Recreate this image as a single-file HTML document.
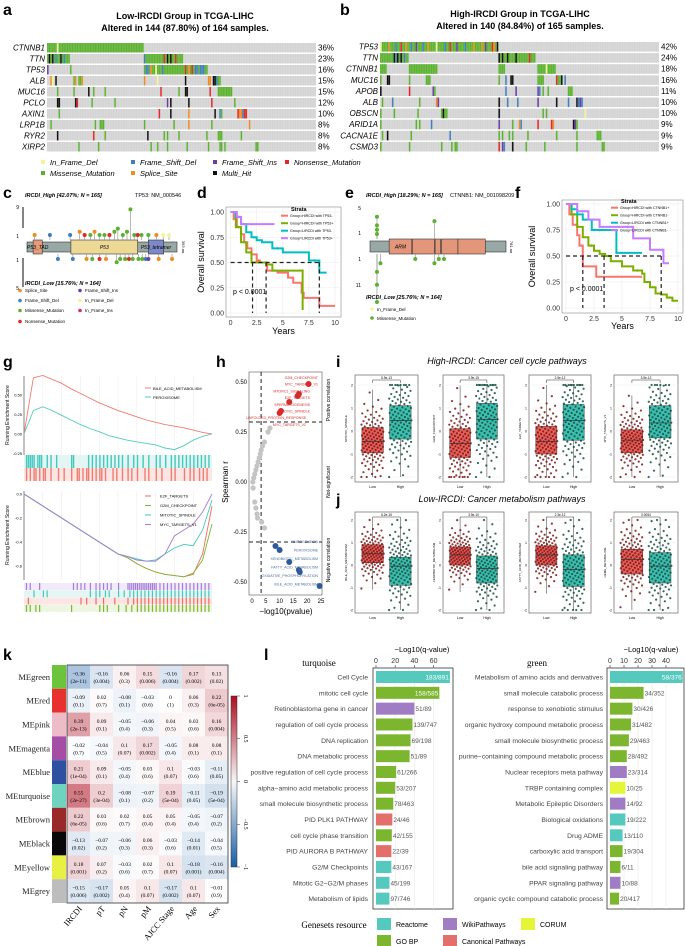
<!DOCTYPE html>
<html><head><meta charset="utf-8">
<style>
html,body{margin:0;padding:0;background:#fff;}
svg{display:block;font-family:"Liberation Sans",sans-serif;}
.pl{font-weight:bold;font-size:16px;}
</style></head>
<body>
<svg id="fig" width="685" height="946" viewBox="0 0 685 946" xmlns="http://www.w3.org/2000/svg">
<rect x="0" y="0" width="685" height="946" fill="#fff"/>
<text class="pl" x="3" y="15">a</text>
<text class="pl" x="340" y="15">b</text>
<text class="pl" x="3" y="198">c</text>
<text class="pl" x="197" y="198">d</text>
<text class="pl" x="345" y="198">e</text>
<text class="pl" x="515" y="198">f</text>
<text class="pl" x="3" y="367">g</text>
<text class="pl" x="216" y="367">h</text>
<text class="pl" x="336" y="367">i</text>
<text class="pl" x="336" y="505">j</text>
<text class="pl" x="3" y="660">k</text>
<text class="pl" x="264" y="660">l</text>
<g font-weight="bold" font-size="9" text-anchor="middle">
<text x="185" y="19">Low-IRCDI Group in TCGA-LIHC</text>
<text x="185" y="31">Altered in 144 (87.80%) of 164 samples.</text>
<text x="520" y="17">High-IRCDI Group in TCGA-LIHC</text>
<text x="520" y="29">Altered in 140 (84.84%) of 165 samples.</text>
</g>
<g id="g-all"></g>
</svg>
<script>
const NS='http://www.w3.org/2000/svg';
const root=document.getElementById('g-all');
function mk(parent,tag,attrs,name){
  const el=document.createElementNS(NS,tag);
  for(const k in attrs) el.setAttribute(k,attrs[k]);
  
  
  parent.appendChild(el);
  return el;
}
function txt(parent,x,y,s,opts,name){const t=mk(parent,'text',Object.assign({x:x,y:y},opts||{}),name);t.textContent=s;return t;}

/* ================= Oncoprints (a, b) ================= */
const mutColors={M:'#5cb130',B:'#3f7fc0',P:'#6b3fa0',R:'#e3262a',O:'#f28a1e',K:'#111',Y:'#f4f49a'};
const genesA=['CTNNB1','TTN','TP53','ALB','MUC16','PCLO','AXIN1','LRP1B','RYR2','XIRP2'];
const pctA=['36%','23%','16%','15%','15%','12%','10%','8%','8%','8%'];
const mutsA=[
 [[0,59,'M'],[6,1,'Y']],
 [[0,14,'M'],[1,1,'K'],[3,1,'K'],[5,1,'B'],[8,1,'K'],[10,1,'B'],[59,24,'M'],[59,1,'B'],[71,1,'R'],[73,1,'K'],[75,1,'K'],[78,1,'R']],
 [[0,1,'P'],[14,1,'M'],[59,39,'M'],[60,2,'B'],[63,1,'O'],[66,1,'Y'],[70,1,'B'],[84,1,'R'],[86,1,'O'],[88,1,'R'],[90,6,'B'],[92,1,'M']],
 [[2,1,'O'],[3,1,'Y'],[5,1,'K'],[16,1,'M'],[17,1,'O'],[19,2,'M'],[21,1,'O'],[59,1,'O'],[67,1,'Y'],[84,1,'K'],[98,2,'O'],[101,4,'K'],[103,1,'B'],[104,2,'M']],
 [[6,1,'M'],[16,1,'M'],[25,1,'K'],[28,1,'M'],[35,1,'M'],[69,1,'R'],[80,1,'M'],[84,2,'K'],[99,1,'R'],[104,9,'M']],
 [[6,2,'K'],[17,1,'K'],[18,1,'R'],[27,1,'M'],[41,1,'M'],[73,1,'P'],[75,1,'K'],[86,1,'K'],[100,1,'R'],[114,1,'M']],
 [[7,1,'M'],[68,1,'R'],[75,1,'K'],[86,1,'O'],[102,1,'K'],[105,1,'B'],[106,1,'M'],[116,6,'R'],[117,2,'O'],[119,1,'B']],
 [[2,1,'M'],[29,1,'M'],[32,3,'M'],[59,1,'M'],[77,1,'M'],[86,1,'O'],[100,1,'M'],[123,1,'O']],
 [[6,1,'K'],[28,1,'R'],[35,1,'M'],[61,1,'K'],[71,1,'M'],[73,1,'M'],[80,1,'M'],[97,1,'M'],[104,3,'M'],[118,1,'M']],
 [[19,1,'M'],[31,1,'M'],[63,1,'M'],[67,1,'M'],[73,1,'M'],[85,1,'M'],[98,1,'M'],[105,2,'M'],[108,1,'M'],[127,2,'M']]
];
const genesB=['TP53','TTN','CTNNB1','MUC16','APOB','ALB','OBSCN','ARID1A','CACNA1E','CSMD3'];
const pctB=['42%','24%','18%','16%','11%','10%','10%','9%','9%','9%'];
const mutsB=[
 [[0,69,'M'],[0,1,'Y'],[5,1,'O'],[9,1,'B'],[12,1,'R'],[15,1,'O'],[18,1,'B'],[21,1,'P'],[25,1,'B'],[28,1,'O'],[33,1,'Y'],[38,1,'B'],[41,1,'R'],[45,1,'P'],[50,1,'B'],[55,1,'O'],[60,1,'O'],[62,1,'P'],[66,1,'R'],[67,1,'O'],[69,1,'K']],
 [[0,17,'M'],[8,1,'K'],[9,1,'B'],[10,1,'K'],[12,1,'K'],[14,1,'B'],[70,22,'M'],[70,1,'K'],[72,1,'K'],[75,1,'K'],[80,1,'K'],[88,1,'R']],
 [[0,4,'M'],[17,17,'M'],[70,4,'M'],[93,11,'M'],[98,1,'Y']],
 [[0,1,'M'],[4,1,'K'],[5,1,'K'],[17,1,'M'],[27,3,'M'],[70,1,'M'],[74,1,'B'],[77,2,'K'],[93,4,'M'],[104,1,'R'],[105,2,'M'],[107,1,'K'],[109,1,'B']],
 [[0,1,'K'],[17,1,'R'],[31,1,'P'],[32,1,'M'],[74,1,'B'],[80,1,'P'],[93,1,'P'],[94,1,'B'],[96,1,'M'],[99,1,'M'],[111,3,'M']],
 [[1,1,'M'],[7,1,'B'],[23,1,'M'],[33,1,'O'],[34,1,'P'],[70,1,'K'],[75,1,'B'],[81,1,'B'],[93,1,'P'],[104,1,'K'],[111,1,'B'],[116,1,'K'],[117,3,'B'],[118,1,'P']],
 [[0,1,'M'],[8,1,'M'],[22,1,'M'],[36,4,'M'],[37,1,'K'],[70,1,'K'],[96,1,'M'],[98,1,'M'],[121,1,'Y']],
 [[0,1,'M'],[21,1,'M'],[23,1,'M'],[30,1,'B'],[70,1,'P'],[78,1,'M'],[82,1,'O'],[83,1,'B'],[93,1,'R'],[101,1,'R'],[102,1,'O'],[114,2,'K'],[115,1,'P'],[116,1,'M']],
 [[1,1,'M'],[4,1,'K'],[18,1,'M'],[41,1,'B'],[70,1,'M'],[72,1,'M'],[76,1,'M'],[78,1,'M'],[87,1,'M'],[104,1,'M'],[116,1,'M'],[128,3,'M']],
 [[0,1,'M'],[17,1,'M'],[36,1,'M'],[42,1,'M'],[44,2,'M'],[70,1,'R'],[72,1,'P'],[73,1,'B'],[78,1,'K'],[86,1,'M'],[97,1,'M'],[116,1,'M'],[131,2,'M']]
];
function onco(genes,pcts,muts,x0,x1,n,top,rowH,tag){
  const g=mk(root,'g',{},'oncoprint-'+tag);
  const cw=(x1-x0)/n;
  genes.forEach((gene,i)=>{
    const y=top+i*rowH;
    mk(g,'rect',{x:x0,y:y,width:x1-x0,height:rowH-1.5,fill:'#d3d3d3'},'onco-row-bg');
    muts[i].forEach(m=>{
      mk(g,'rect',{x:x0+m[0]*cw,y:y,width:Math.max(m[1]*cw,1.2),height:rowH-1.5,fill:mutColors[m[2]]},'mutation-cell');
    });
    txt(g,x0-2,y+7.5,gene,{'font-size':8,'font-style':'italic','text-anchor':'end'},'gene-label');
    txt(g,x1+2,y+7.5,pcts[i],{'font-size':8},'gene-percent');
  });
  for(let k=0;k<=n;k+=1){
    if(k%1===0) mk(g,'line',{x1:x0+k*cw,x2:x0+k*cw,y1:top,y2:top+genes.length*rowH,stroke:'#fff','stroke-width':0.25,'stroke-opacity':0.5},'sample-sep');
  }
}
onco(genesA,pctA,mutsA,47,316,164,43,11,'a');
onco(genesB,pctB,mutsB,380,659,165,42,11.1,'b');
(function(){
  const g=mk(root,'g',{'font-size':7.5,'font-style':'italic'},'mutation-legend');
  const items=[['In_Frame_Del','Y',41,165],['Frame_Shift_Del','B',131,165],['Frame_Shift_Ins','P',213,165],['Nonsense_Mutation','R',285,165],
    ['Missense_Mutation','M',41,176],['Splice_Site','O',131,176],['Multi_Hit','K',213,176]];
  items.forEach(it=>{
    mk(g,'rect',{x:it[2],y:it[3]-5,width:4,height:4,fill:mutColors[it[1]]},'legend-swatch');
    txt(g,it[2]+9,it[3],it[0],{},'legend-label');
  });
})();

/* ================= Lollipops (c, e) ================= */
const lolColors={O:'#f28a1e',B:'#3f7fc0',M:'#5cb130',R:'#e3262a',P:'#6b3fa0',Y:'#f4f49a',I:'#d62f5a'};
const cUpPos=[20,60,113,138,151,166,177,190,203,216,229,238,251,262,271,281,290,300,318,339,357,372];
const cUpCnt=[1,1,1,2,1,1,2,1,1,1,2,3,1,2,9,1,1,1,1,1,1,1];
const cUpType=['O','B','B','O','R','M','O','M','M','R','M','M','M','M','M','M','R','M','M','O','Y','Y'];
const cDnPos=[81,120,156,171,190,207,235,244,257,267,277,292,302,311,318,345,380];
const cDnCnt=[1,1,1,1,1,1,2,1,1,1,1,1,1,1,1,1,1];
const cDnType=['B','B','O','M','R','O','M','M','M','R','M','M','M','B','P','O','O'];
function lollipop(cfg){
  const g=mk(root,'g',{},cfg.name);
  const sx=a=>cfg.x0+a/cfg.len*(cfg.x1-cfg.x0);
  mk(g,'rect',{x:cfg.x0,y:cfg.ty,width:cfg.x1-cfg.x0,height:cfg.th,fill:'#98a8a4',stroke:'#333','stroke-width':0.6},'protein-track');
  cfg.domains.forEach(d=>{
    mk(g,'rect',{x:sx(d[0]),y:cfg.ty-2,width:sx(d[1])-sx(d[0]),height:cfg.th+4,fill:d[2],stroke:'#333','stroke-width':0.6},'protein-domain');
    if(d[3]) txt(g,(sx(d[0])+sx(d[1]))/2,cfg.ty+cfg.th/2+2,d[3],{'font-size':5,'font-style':'italic','text-anchor':'middle'},'domain-label');
  });
  const draw=(pos,cnt,typ,dir)=>{
    pos.forEach((p,i)=>{
      const base=dir<0?cfg.ty-2:cfg.ty+cfg.th+2;
      const yh=base+dir*(5+(cnt[i]-1)*cfg.step);
      mk(g,'line',{x1:sx(p),x2:sx(p),y1:base,y2:yh,stroke:'#999','stroke-width':0.7},'lollipop-stem');
      mk(g,'circle',{cx:sx(p),cy:yh,r:2,fill:lolColors[typ[i]]},'lollipop-head');
    });
  };
  draw(cfg.up[0],cfg.up[1],cfg.up[2],-1);
  draw(cfg.dn[0],cfg.dn[1],cfg.dn[2],1);
  return g;
}
const gc=lollipop({name:'lollipop-tp53',x0:27,x1:177,len:393,ty:242,th:10,step:3.2,
  domains:[[16,40,'#e59a78','P53_TAD'],[115,290,'#ecd995','P53'],[318,358,'#7c88c8','P53_tetramer']],
  up:[cUpPos,cUpCnt,cUpType],dn:[cDnPos,cDnCnt,cDnType]});
(function(){
  const g=gc;
  mk(g,'line',{x1:23,x2:23,y1:207,y2:228,stroke:'#333','stroke-width':1.2},'y-axis-up');
  mk(g,'line',{x1:23,x2:23,y1:258,y2:287,stroke:'#333','stroke-width':1.2},'y-axis-down');
  [['9',209],['1',238],['1',262],['5',290]].forEach(t=>txt(g,19,t[1],t[0],{'font-size':5,'text-anchor':'end'},'y-tick-label'));
  txt(g,25,197,'IRCDI_High [42.07%; N = 165]',{'font-size':5.5,'font-style':'italic','font-weight':'bold'},'c-high-title');
  txt(g,135,197,'TP53: NM_000546',{'font-size':5.5},'c-gene-title');
  txt(g,25,285,'IRCDI_Low [15.76%; N = 164]',{'font-size':5.5,'font-style':'italic','font-weight':'bold'},'c-low-title');
  txt(g,182,247,'393 aa',{'font-size':4,transform:'rotate(90 182 247)','text-anchor':'middle'},'protein-length');
  const leg=[['Splice_Site','O',20,292],['Frame_Shift_Ins','P',80,292],['Frame_Shift_Del','B',20,302],['In_Frame_Del','Y',80,302],
    ['Missense_Mutation','M',20,312],['In_Frame_Ins','I',80,312],['Nonsense_Mutation','R',20,333-10]];
  leg.forEach(l=>{mk(g,'circle',{cx:l[2],cy:l[3]-1.5,r:1.8,fill:lolColors[l[1]]},'legend-dot');txt(g,l[2]+5,l[3],l[0],{'font-size':4.5},'legend-label');});
})();
const eUpPos=[40,40,40,40,370];
const eUpCnt=[5,3,2,1,4];
const eUpType=['M','M','M','M','M'];
const eDnPos=[40,40,40,60,260,370,395,425];
const eDnCnt=[11,7,4,2,1,2,1,1];
const eDnType=['M','M','M','M','M','M','M','M'];
const ge=lollipop({name:'lollipop-ctnnb1',x0:370,x1:506,len:781,ty:241,th:11,step:4.3,
  domains:[[110,240,'#e3967a','ARM'],[243,370,'#e3967a',''],[374,405,'#e3967a',''],[410,505,'#e3967a',''],[505,662,'#e3967a','']],
  up:[eUpPos,eUpCnt,eUpType],dn:[eDnPos,eDnCnt,eDnType]});
(function(){
  const g=ge;
  [['5',210],['1',235],['1',261],['11',287]].forEach(t=>txt(g,361,t[1],t[0],{'font-size':5,'text-anchor':'end'},'y-tick-label'));
  txt(g,366,197,'IRCDI_High [18.29%; N = 165]',{'font-size':5.5,'font-style':'italic','font-weight':'bold'},'e-high-title');
  txt(g,450,197,'CTNNB1: NM_001098209',{'font-size':5.5},'e-gene-title');
  txt(g,366,299,'IRCDI_Low [25.76%; N = 164]',{'font-size':5.5,'font-style':'italic','font-weight':'bold'},'e-low-title');
  txt(g,510,247,'781 aa',{'font-size':4,transform:'rotate(90 510 247)','text-anchor':'middle'},'protein-length');
  mk(g,'circle',{cx:372,cy:309,r:1.8,fill:lolColors.Y},'legend-dot');txt(g,377,311,'In_Frame_Del',{'font-size':4.5},'legend-label');
  mk(g,'circle',{cx:372,cy:318,r:1.8,fill:lolColors.M},'legend-dot');txt(g,377,320,'Missense_Mutation',{'font-size':4.5},'legend-label');
})();

/* ================= Survival (d, f) ================= */
const survColors=['#f8766d','#7cae00','#00bfc4','#c77cff'];
const dT=[[0,0.3,0.6,1,1.3,1.6,2,2.5,2.8,3.5,4.5,5.5,6,6.8,7,8.5,10],[0,0.5,1,1.5,2,3.4,4,6.8,6.9],[0,0.5,1,1.5,2,2.5,3,4,5,6,7.5,8.5,9.2],[0,0.6,1,4.2]];
const dS=[[1,0.93,0.85,0.78,0.7,0.64,0.58,0.52,0.5,0.42,0.4,0.35,0.3,0.2,0.15,0.07,0.07],[1,0.85,0.7,0.6,0.5,0.48,0.42,0.42,0.03],[1,0.95,0.88,0.8,0.75,0.72,0.7,0.64,0.6,0.6,0.52,0.4,0.4],[1,0.95,0.88,0.88]];
const dLabels=['Group=HIRCDI with TP53-','Group=HIRCDI with TP53+','Group=LIRCDI with TP53-','Group=LIRCDI with TP53+'];
const dMedians=[2.1,3.4,8.5];
const fT=[[0,0.3,0.6,1,1.2,1.5,2.7,6.8],[0,0.5,1,1.5,2,2.5,3,3.5,4,5,6,6.8,7,7.5,8,8.5,9,9.5,10],[0,0.5,1,1.5,2.3,3.7,4.5,6.8],[0,1,2,3,5,6,7.5,8.5,8.7,9.2]];
const fS=[[1,0.9,0.8,0.7,0.6,0.4,0.3,0.3],[1,0.9,0.78,0.68,0.6,0.55,0.52,0.5,0.45,0.4,0.36,0.33,0.25,0.2,0.14,0.13,0.1,0.07,0.07],[1,0.95,0.9,0.85,0.75,0.75,0.53,0.53],[1,0.93,0.85,0.78,0.78,0.67,0.56,0.56,0.43,0.43]];
const fLabels=['Group=HIRCDI with CTNNB1+','Group=HIRCDI with CTNNB1-','Group=LIRCDI with CTNNB1+','Group=LIRCDI with CTNNB1-'];
const fMedians=[1.5,3.4,8.5];
const survYTicks=[0,0.25,0.5,0.75,1];
const survXTicks=[0,2.5,5,7.5,10];
function survival(c){
  const g=mk(root,'g',{},c.name);
  const X=t=>c.xa+t/10*(c.xb-c.xa), Y=s=>c.y0-s*(c.y0-c.y1);
  mk(g,'rect',{x:c.bx0,y:c.by0,width:c.bx1-c.bx0,height:c.by1-c.by0,fill:'#fff',stroke:'#888','stroke-width':0.6},'plot-frame');
  survXTicks.forEach(t=>{mk(g,'line',{x1:X(t),x2:X(t),y1:c.by0,y2:c.by1,stroke:'#ebebeb','stroke-width':0.6},'grid-x');
    txt(g,X(t),c.by1+8,String(t),{'font-size':7,'text-anchor':'middle','fill':'#333'},'x-tick-label');});
  survYTicks.forEach(s=>{mk(g,'line',{x1:c.bx0,x2:c.bx1,y1:Y(s),y2:Y(s),stroke:'#ebebeb','stroke-width':0.6},'grid-y');
    txt(g,c.bx0-2,Y(s)+2.5,s.toFixed(2),{'font-size':7,'text-anchor':'end','fill':'#333'},'y-tick-label');});
  c.T.forEach((ts,i)=>{
    let d='M'+X(ts[0])+','+Y(c.S[i][0]);
    for(let k=1;k<ts.length;k++){d+=' H'+X(ts[k])+' V'+Y(c.S[i][k]);}
    mk(g,'path',{d:d,fill:'none',stroke:survColors[i],'stroke-width':2},'survival-curve-'+(i+1));
    for(let k=1;k<ts.length-1;k+=3) txt(g,X((ts[k]+ts[k+1])/2),Y(c.S[i][k])+2,'+',{'font-size':6,'text-anchor':'middle',fill:survColors[i]},'censor-mark');
  });
  mk(g,'line',{x1:X(0),x2:X(c.med[c.med.length-1]),y1:Y(0.5),y2:Y(0.5),stroke:'#222','stroke-width':1.2,'stroke-dasharray':'4,3'},'median-line');
  c.med.forEach(m=>mk(g,'line',{x1:X(m),x2:X(m),y1:Y(0.5),y2:Y(0),stroke:'#222','stroke-width':1.2,'stroke-dasharray':'4,3'},'median-drop'));
  txt(g,c.px,c.py,'p < 0.0001',{'font-size':7},'p-value');
  txt(g,c.ytx,(c.by0+c.by1)/2,'Overall survival',{'font-size':9,'text-anchor':'middle',transform:'rotate(-90 '+c.ytx+' '+((c.by0+c.by1)/2)+')'},'y-axis-title');
  txt(g,(c.bx0+c.bx1)/2,c.yty,'Years',{'font-size':9,'text-anchor':'middle'},'x-axis-title');
  txt(g,c.lx+10,c.ly,'Strata',{'font-size':5.5,'font-weight':'bold'},'legend-title');
  c.labels.forEach((l,i)=>{
    const yy=c.ly+6+i*7.5;
    mk(g,'line',{x1:c.lx,x2:c.lx+7,y1:yy-1.3,y2:yy-1.3,stroke:survColors[i],'stroke-width':2},'legend-key');
    txt(g,c.lx+9,yy,l,{'font-size':3.6},'legend-label');
  });
}
survival({name:'km-tp53',T:dT,S:dS,labels:dLabels,med:dMedians,xa:230.6,xb:335,y0:313,y1:212,bx0:226,by0:207,bx1:341,by1:317,px:233,py:294,ytx:204,yty:334,lx:281,ly:211});
survival({name:'km-ctnnb1',T:fT,S:fS,labels:fLabels,med:fMedians,xa:566,xb:678,y0:308,y1:204,bx0:562,by0:200,bx1:683,by1:313,px:570,py:291,ytx:535,yty:329,lx:611,ly:203});

/* ================= GSEA (g) ================= */
const esTopRed=[0,0.72,0.75,0.7,0.65,0.58,0.52,0.46,0.4,0.35,0.3,0.26,0.22,0.18,0.15,0.12,0.1,0.08,0.05,0.02,0.0];
const esTopTeal=[0,0.3,0.35,0.3,0.24,0.18,0.12,0.07,0.03,-0.02,-0.05,-0.08,-0.1,-0.12,-0.14,-0.18,-0.2,-0.15,-0.08,-0.03,0];
const esBot=[
 [0,-.05,-.1,-.15,-.2,-.25,-.3,-.35,-.4,-.45,-.5,-.53,-.58,-.62,-.65,-.67,-.68,-.69,-.67,-.5,-.1],
 [0,-.05,-.1,-.15,-.2,-.25,-.3,-.35,-.4,-.45,-.5,-.53,-.58,-.62,-.65,-.67,-.68,-.69,-.66,-.55,-.25],
 [0,-.05,-.1,-.15,-.2,-.25,-.3,-.35,-.4,-.45,-.5,-.52,-.54,-.56,-.55,-.5,-.45,-.42,-.43,-.3,-.05],
 [0,-.05,-.1,-.15,-.2,-.25,-.3,-.35,-.4,-.45,-.5,-.52,-.55,-.56,-.56,-.5,-.35,-.3,-.25,-.15,0]];
const esBotNames=['E2F_TARGETS','G2M_CHECKPOINT','MITOTIC_SPINDLE','MYC_TARGETS_V1'];
const esBotColors=['#f26b60','#7cb82f','#43c9be','#a77bd8'];
const rugTeal=[0.01,0.02,0.03,0.04,0.05,0.07,0.08,0.09,0.12,0.14,0.17,0.25,0.26,0.34,0.36,0.38,0.4,0.42,0.44,0.46,0.48,0.5,0.52,0.55,0.58,0.6,0.63,0.66,0.7,0.72,0.75,0.78,0.8,0.82,0.84,0.86,0.88,0.9,0.92,0.94,0.96,0.98];
const rugRed=[0.01,0.03,0.05,0.06,0.08,0.1,0.11,0.14,0.18,0.21,0.25,0.28,0.29,0.31,0.33,0.34,0.36,0.38,0.4,0.41,0.43,0.47,0.49,0.52,0.55,0.57,0.6,0.64,0.66,0.7,0.73,0.78,0.8,0.85,0.88,0.9,0.93,0.95,0.97];
const rugPurple=[0.01,0.03,0.08,0.26,0.28,0.3,0.32,0.35,0.38,0.4,0.42,0.44,0.46,0.5,0.55,0.56,0.57,0.58,0.59,0.6,0.61,0.62,0.63,0.64,0.65,0.66,0.67,0.68,0.69,0.7,0.72,0.74,0.76,0.78,0.8,0.82,0.84,0.86,0.88,0.9,0.92,0.94,0.96,0.98];
const rugBTeal=[0.05,0.1,0.12,0.35,0.38,0.4,0.43,0.45,0.5,0.53,0.56,0.58,0.6,0.62,0.64,0.66,0.68,0.7,0.72,0.74,0.76,0.78,0.8,0.82,0.84,0.86,0.88,0.9,0.92,0.94,0.96,0.98];
const rugBRed=[0.02,0.3,0.33,0.38,0.42,0.48,0.55,0.58,0.6,0.62,0.64,0.66,0.68,0.7,0.72,0.74,0.76,0.78,0.8,0.82,0.84,0.86,0.88,0.9,0.92,0.94,0.96,0.98];
const rugBGreen=[0.01,0.03,0.06,0.08,0.25,0.4,0.42,0.44,0.5,0.54,0.57,0.6,0.62,0.64,0.66,0.68,0.7,0.72,0.74,0.76,0.78,0.8,0.82,0.84,0.86,0.88,0.9,0.92,0.94,0.96,0.98];
(function(){
  const g=mk(root,'g',{},'gsea-panel');
  const x0=24,x1=212;
  const X=f=>x0+f*(x1-x0);
  // top
  const Yt=v=>434-v*78;
  mk(g,'line',{x1:x0,x2:x0,y1:376,y2:455,stroke:'#333','stroke-width':0.6},'top-y-axis');
  for(let k=1;k<10;k++) mk(g,'line',{x1:X(k/10),x2:X(k/10),y1:376,y2:455,stroke:'#eee','stroke-width':0.6},'grid-x');
  [[0.5,'0.50'],[0.25,'0.25'],[0,'0.00'],[-0.25,'-0.25']].forEach(t=>txt(g,x0-2,Yt(t[0])+1.5,t[1],{'font-size':4,'text-anchor':'end'},'y-tick-label'));
  txt(g,9,415,'Running Enrichment Score',{'font-size':5,'text-anchor':'middle',transform:'rotate(-90 9 415)'},'y-axis-title-top');
  const line=(arr,Y,col,name)=>{let d='';arr.forEach((v,i)=>{d+=(i?' L':'M')+X(i/(arr.length-1)).toFixed(1)+','+Y(v).toFixed(1);});mk(g,'path',{d:d,fill:'none',stroke:col,'stroke-width':0.9},name);};
  line(esTopRed,Yt,'#f07c72','es-curve-bile-acid');
  line(esTopTeal,Yt,'#53cbbf','es-curve-peroxisome');
  mk(g,'line',{x1:145,x2:151,y1:388,y2:388,stroke:'#f07c72'},'legend-key');txt(g,153,390,'BILE_ACID_METABOLISM',{'font-size':4},'legend-label');
  mk(g,'line',{x1:145,x2:151,y1:397,y2:397,stroke:'#53cbbf'},'legend-key');txt(g,153,399,'PEROXISOME',{'font-size':4},'legend-label');
  mk(g,'rect',{x:x0,y:455,width:x1-x0,height:13,fill:'#e4f6f4'},'rug-bg-teal');
  mk(g,'rect',{x:x0,y:468,width:x1-x0,height:13,fill:'#fce6e4'},'rug-bg-red');
  rugTeal.forEach(f=>mk(g,'rect',{x:X(f),y:455,width:1.4,height:13,fill:'#43c9be'},'rug-tick'));
  rugRed.forEach(f=>mk(g,'rect',{x:X(f),y:468,width:1.4,height:13,fill:'#f07c72'},'rug-tick'));
  // bottom
  const Yb=v=>494-v*120;
  mk(g,'line',{x1:x0,x2:x0,y1:491,y2:580,stroke:'#333','stroke-width':0.6},'bottom-y-axis');
  for(let k=1;k<10;k++) mk(g,'line',{x1:X(k/10),x2:X(k/10),y1:491,y2:580,stroke:'#eee','stroke-width':0.6},'grid-x');
  [[0,'0.0'],[-0.2,'-0.2'],[-0.4,'-0.4'],[-0.6,'-0.6']].forEach(t=>txt(g,x0-2,Yb(t[0])+1.5,t[1],{'font-size':4,'text-anchor':'end'},'y-tick-label'));
  txt(g,9,535,'Running Enrichment Score',{'font-size':5,'text-anchor':'middle',transform:'rotate(-90 9 535)'},'y-axis-title-bottom');
  esBot.forEach((arr,i)=>line(arr,Yb,esBotColors[i],'es-curve-'+esBotNames[i].toLowerCase()));
  esBotNames.forEach((n,i)=>{const yy=496+i*9.5;mk(g,'line',{x1:145,x2:151,y1:yy,y2:yy,stroke:esBotColors[i]},'legend-key');txt(g,160,yy+1.5,n,{'font-size':4},'legend-label');});
  const rugs=[[rugPurple,'#a77bd8','#f1eafa'],[rugBTeal,'#43c9be','#e4f6f4'],[rugBRed,'#f26b60','#fce6e4'],[rugBGreen,'#7cb82f','#eef6e2']];
  rugs.forEach((r,i)=>{const yy=583+i*7.3;mk(g,'rect',{x:x0,y:yy,width:x1-x0,height:7,fill:r[2]},'rug-bg');
    r[0].forEach(f=>mk(g,'rect',{x:X(f),y:yy,width:1.2,height:7,fill:r[1]},'rug-tick'));});
})();

/* ================= Volcano-like scatter (h) ================= */
const hLogP=[20.5,17,16.5,13.5,10.5,10,6.5,5.8,4.5,3.8,3.3,3,2.6,2.2,1.8,1.4,1,0.6,0.3,0.4,1,1.4,1.8,2,3.5,4.5,8.5,10,13.5,17,17.3,24.5];
const hR=[0.49,0.44,0.43,0.40,0.355,0.345,0.27,0.25,0.2,0.18,0.16,0.14,0.12,0.1,0.08,0.06,0.04,0.02,0.0,-0.03,-0.1,-0.13,-0.16,-0.18,-0.2,-0.23,-0.32,-0.34,-0.40,-0.44,-0.45,-0.52];
const hGroup=['p','p','p','p','p','p','n','n','n','n','n','n','n','n','n','n','n','n','n','n','n','n','n','n','n','n','q','q','q','q','q','q'];
const hPosLabels=['G2M_CHECKPOINT','MYC_TARGETS_V1','MTORC1_SIGNALING','E2F_TARGETS','SPERMATOGENESIS','MITOTIC_SPINDLE','UNFOLDED_PROTEIN_RESPONSE','MYC_TARGETS_V2'];
const hNegLabels=['ADIPOGENESIS','PEROXISOME','XENOBIOTIC_METABOLISM','FATTY_ACID_METABOLISM','OXIDATIVE_PHOSPHORYLATION','BILE_ACID_METABOLISM'];
(function(){
  const g=mk(root,'g',{},'correlation-scatter');
  const X=v=>252+v*2.76, Y=r=>482-r*200;
  mk(g,'rect',{x:249,y:372,width:73,height:223,fill:'#fff',stroke:'#555','stroke-width':0.6},'plot-frame');
  [0.5,0.25,0,-0.25,-0.5].forEach(t=>{txt(g,247,Y(t)+2,t.toFixed(2),{'font-size':6,'text-anchor':'end'},'y-tick-label');});
  [0,5,10,15,20,25].forEach(t=>txt(g,X(t),603,String(t),{'font-size':6,'text-anchor':'middle'},'x-tick-label'));
  txt(g,286,614,'\u2212log10(pvalue)',{'font-size':8,'text-anchor':'middle'},'x-axis-title');
  txt(g,228,482,'Spearman r',{'font-size':8,'text-anchor':'middle',transform:'rotate(-90 228 482)'},'y-axis-title');
  mk(g,'line',{x1:X(3.3),x2:X(3.3),y1:372,y2:595,stroke:'#222','stroke-width':1,'stroke-dasharray':'4,3'},'pvalue-threshold');
  mk(g,'line',{x1:249,x2:322,y1:Y(0.3),y2:Y(0.3),stroke:'#222','stroke-width':1,'stroke-dasharray':'4,3'},'r-threshold-pos');
  mk(g,'line',{x1:249,x2:322,y1:Y(-0.3),y2:Y(-0.3),stroke:'#222','stroke-width':1,'stroke-dasharray':'4,3'},'r-threshold-neg');
  const col={p:'#d42b2b',n:'#c4c4c4',q:'#2f5a9a'};
  hLogP.forEach((v,i)=>mk(g,'circle',{cx:X(v),cy:Y(hR[i]),r:hGroup[i]==='n'?2.6:3,fill:col[hGroup[i]]},'point-'+hGroup[i]));
  hPosLabels.forEach((l,i)=>txt(g,i<2?318:(i<6?310:306),379+i*6.7,l,{'font-size':3.6,'text-anchor':'end',fill:'#d42b2b'},'pathway-label'));
  hNegLabels.forEach((l,i)=>txt(g,i<3?318:318,543+i*8.5,l,{'font-size':3.6,'text-anchor':'end',fill:'#4a6aa0'},'pathway-label'));
  txt(g,330,400,'Positive correlation',{'font-size':5,'text-anchor':'middle',transform:'rotate(-90 330 400)'},'region-label');
  txt(g,330,482,'Not-significant',{'font-size':5,'text-anchor':'middle',transform:'rotate(-90 330 482)'},'region-label');
  txt(g,330,560,'Negative correlation',{'font-size':5,'text-anchor':'middle',transform:'rotate(-90 330 560)'},'region-label');
})();

/* ================= Boxplots (i, j) ================= */
const iNames=['MITOTIC_SPINDLE','G2M_CHECKPOINT','E2F_TARGETS','MYC_TARGETS_V1'];
const iP=['5.9e-13','3.9e-15','2.5e-12','3.5e-12'];
const iLowQ=[[-0.95,-0.45,0.15],[-1.15,-0.55,0.1],[-1,-0.45,0.2],[-0.95,-0.4,0.05]];
const iHighQ=[[-0.35,0.45,1.1],[-0.35,0.5,1.2],[-0.4,0.45,1.15],[-0.3,0.35,1.1]];
const jNames=['BILE_ACID_METABOLISM','XENOBIOTIC_METABOLISM','FATTY_ACID_METABOLISM','HEME_METABOLISM'];
const jP=['6.2e-15','3.9e-10','2.3e-12','0.0054'];
const jLowQ=[[0.1,0.5,0.9],[0,0.45,0.8],[0,0.45,0.85],[-0.4,0.25,0.7]];
const jHighQ=[[-0.9,-0.05,0.35],[-0.8,-0.15,0.4],[-0.95,-0.2,0.45],[-0.8,-0.05,0.55]];
const panelX=[[355,418],[443,504],[529,591],[614,678]];
function ninv(p){ // approx inverse normal
  const a=p<0.5?p:1-p; const t=Math.sqrt(-2*Math.log(a));
  const z=t-(2.515517+0.802853*t+0.010328*t*t)/(1+1.432788*t+0.189269*t*t+0.001308*t*t*t);
  return p<0.5?-z:z;
}
function boxRow(names,ps,lowQ,highQ,top,bot,zero,unit,tag){
  const g=mk(root,'g',{},'boxplots-'+tag);
  names.forEach((nm,i)=>{
    const px0=panelX[i][0],px1=panelX[i][1],w=px1-px0;
    const Y=v=>zero-v*unit;
    mk(g,'rect',{x:px0,y:top,width:w,height:bot-top,fill:'#fff',stroke:'#666','stroke-width':0.7},'box-panel-frame');
    [-2,-1,0,1,2].forEach(t=>{mk(g,'line',{x1:px0,x2:px1,y1:Y(t),y2:Y(t),stroke:'#eee','stroke-width':0.5},'grid-y');
      txt(g,px0-2,Y(t)+1.5,String(t),{'font-size':3.5,'text-anchor':'end'},'y-tick-label');});
    txt(g,px0-8,(top+bot)/2,nm,{'font-size':3,'text-anchor':'middle',transform:'rotate(-90 '+(px0-8)+' '+((top+bot)/2)+')'},'y-axis-title');
    [[lowQ[i],0.28,'#e8605a','#7a1515','Low'],[highQ[i],0.72,'#3cbfb0','#124d40','High']].forEach(b=>{
      const q=b[0],cx=px0+w*b[1],bw=w*0.34;
      const iqr=q[2]-q[0];
      mk(g,'line',{x1:cx,x2:cx,y1:Y(Math.min(2,q[2]+1.5*iqr)),y2:Y(Math.max(-2,q[0]-1.5*iqr)),stroke:'#333','stroke-width':0.5},'whisker');
      mk(g,'rect',{x:cx-bw/2,y:Y(q[2]),width:bw,height:Y(q[0])-Y(q[2]),fill:b[2],stroke:'#333','stroke-width':0.5},'box-'+b[4].toLowerCase());
      const N=110;
      for(let k=0;k<N;k++){
        const v=Math.max(-2,Math.min(2,q[1]+ninv((k+0.5)/N)*iqr/1.35));
        const jx=((k*0.618034)%1-0.5)*bw*1.05;
        mk(g,'circle',{cx:cx+jx,cy:Y(v),r:1.1,fill:b[3],'fill-opacity':0.85},'jitter-point');
      }
      mk(g,'line',{x1:cx-bw/2,x2:cx+bw/2,y1:Y(q[1]),y2:Y(q[1]),stroke:'#333','stroke-width':0.7},'median');
      txt(g,cx,bot+6,b[4],{'font-size':3.5,'text-anchor':'middle'},'x-tick-label');
    });
    const bx0=px0+w*0.28,bx1=px0+w*0.72,by=top+5;
    mk(g,'path',{d:'M'+bx0+','+(by+3)+' V'+by+' H'+bx1+' V'+(by+3),fill:'none',stroke:'#333','stroke-width':0.5},'signif-bracket');
    txt(g,(bx0+bx1)/2,by-1,ps[i],{'font-size':3.2,'text-anchor':'middle'},'p-value');
  });
}
txt(root,507,364,'High-IRCDI: Cancer cell cycle pathways',{'font-size':9,'font-style':'italic','text-anchor':'middle'},'i-title');
txt(root,502,502,'Low-IRCDI: Cancer metabolism pathways',{'font-size':9,'font-style':'italic','text-anchor':'middle'},'j-title');
boxRow(iNames,iP,iLowQ,iHighQ,375,482,431,23,'i');
boxRow(jNames,jP,jLowQ,jHighQ,512,613,565,22.5,'j');

/* ================= Heatmap (k) ================= */
const modules=['MEgreen','MEred','MEpink','MEmagenta','MEblue','MEturquoise','MEbrown','MEblack','MEyellow','MEgrey'];
const moduleColors=['#6cc33c','#e8312f','#eebcc9','#a54ea5','#2f50a0','#6fd3c0','#9a2a2a','#080808','#e8f044','#bdbdbd'];
const traits=['IRCDI','pT','pN','pM','AJCC Stage','Age','Sex'];
const corR=[
 [-0.36,-0.16,0.06,0.15,-0.16,0.17,0.13],
 [-0.09,0.02,-0.08,-0.03,0,0.06,0.22],
 [0.39,0.09,-0.05,-0.06,0.04,0.03,0.16],
 [-0.02,-0.04,0.1,0.17,-0.05,0.08,0.08],
 [0.21,0.09,-0.05,0.03,0.1,-0.03,-0.11],
 [0.55,0.2,-0.08,-0.07,0.19,-0.11,-0.19],
 [0.22,0.03,0.02,0.05,0.05,-0.05,-0.07],
 [-0.13,-0.07,-0.06,0.06,-0.03,-0.14,-0.04],
 [0.18,0.07,-0.03,0.02,0.1,-0.18,-0.16],
 [-0.15,-0.17,0.05,0.1,-0.17,0.1,-0.01]];
const corP=[
 ['2e-11','0.004','0.3','0.006','0.004','0.002','0.02'],
 ['0.1','0.7','0.1','0.6','1','0.3','6e-05'],
 ['2e-13','0.1','0.4','0.3','0.5','0.6','0.004'],
 ['0.7','0.5','0.07','0.002','0.4','0.1','0.1'],
 ['1e-04','0.1','0.4','0.6','0.07','0.6','0.05'],
 ['2e-27','3e-04','0.1','0.2','5e-04','0.05','5e-04'],
 ['6e-05','0.6','0.7','0.4','0.4','0.4','0.2'],
 ['0.02','0.2','0.3','0.3','0.6','0.01','0.5'],
 ['0.001','0.2','0.6','0.7','0.07','0.001','0.004'],
 ['0.006','0.002','0.4','0.07','0.002','0.07','0.9']];
function corColor(r){
  const a=Math.min(1,Math.abs(r));
  const end=r>=0?[178,24,43]:[33,102,172];
  const c=[0,1,2].map(k=>Math.round(255+(end[k]-255)*a*1.05));
  return 'rgb('+c.map(v=>Math.max(0,Math.min(255,v))).join(',')+')';
}
(function(){
  const g=mk(root,'g',{'font-family':'"Liberation Serif",serif'},'module-trait-heatmap');
  const x0=67,cw=23,y0=665,rh=23.8;
  modules.forEach((m,i)=>{
    const y=y0+i*rh;
    mk(g,'rect',{x:52,y:y,width:14,height:rh,fill:moduleColors[i]},'module-color-strip');
    txt(g,50,y+rh/2+3,m,{'font-size':8.5,'text-anchor':'end',fill:'#222'},'module-label');
    traits.forEach((t,j)=>{
      mk(g,'rect',{x:x0+j*cw,y:y,width:cw,height:rh,fill:corColor(corR[i][j])},'heatmap-cell');
      const lbl=corR[i][j]===0?'0':String(corR[i][j]).replace('-','\u2212');
      txt(g,x0+j*cw+cw/2,y+rh/2-1.5,lbl,{'font-size':5.5,'text-anchor':'middle'},'cell-r');
      txt(g,x0+j*cw+cw/2,y+rh/2+6,'('+corP[i][j]+')',{'font-size':5.5,'text-anchor':'middle'},'cell-p');
    });
  });
  mk(g,'rect',{x:x0,y:y0,width:cw*7,height:rh*10,fill:'none',stroke:'#333','stroke-width':0.8},'heatmap-frame');
  traits.forEach((t,j)=>{const cx=x0+j*cw+cw/2+4,cy=y0+rh*10+6;
    txt(g,cx,cy,t,{'font-size':8.5,'text-anchor':'end',transform:'rotate(-50 '+cx+' '+cy+')'},'trait-label');});
  const defs=mk(g,'defs',{},'defs');
  const lg=mk(defs,'linearGradient',{id:'cbar',x1:0,y1:0,x2:0,y2:1},'colorbar-gradient');
  [[0,corColor(1)],[0.5,'#f7f7f7'],[1,corColor(-1)]].forEach(s=>mk(lg,'stop',{offset:s[0],'stop-color':s[1]},'gradient-stop'));
  mk(g,'rect',{x:231,y:696,width:6,height:171,fill:'url(#cbar)',stroke:'#333','stroke-width':0.5},'colorbar');
  [[1,'1'],[0.5,'0.5'],[0,'0'],[-0.5,'\u22120.5'],[-1,'\u22121']].forEach(t=>{const yy=781.5-t[0]*85.5;
    mk(g,'line',{x1:237,x2:240,y1:yy,y2:yy,stroke:'#333','stroke-width':0.5},'colorbar-tick');
    txt(g,244,yy,t[1],{'font-size':6,'text-anchor':'middle',transform:'rotate(90 244 '+yy+')'},'colorbar-label');});
})();

/* ================= Enrichment bars (l) ================= */
const srcColors={R:'#55c9bd',G:'#7cb52e',W:'#a07cc5',C:'#e46f6a',Y:'#e5f53a'};
const turqTerms=['Cell Cycle','mitotic cell cycle','Retinoblastoma gene in cancer','regulation of cell cycle process','DNA replication','DNA metabolic process','positive regulation of cell cycle process','alpha\u2212amino acid metabolic process','small molecule biosynthetic process','PID PLK1 PATHWAY','cell cycle phase transition','PID AURORA B PATHWAY','G2/M Checkpoints','Mitotic G2\u2212G2/M phases','Metabolism of lipids'];
const turqVals=[77,66,40,38,36,35,21,20,18,17,16.5,16,16,14,14];
const turqSrc=['R','G','W','G','G','G','G','G','G','C','G','C','R','R','R'];
const turqRatio=['183/891','158/585','51/89','139/747','69/198','51/89','61/266','53/207','78/463','24/46','42/155','22/39','43/167','45/199','97/746'];
const greenTerms=['Metabolism of amino acids and derivatives','small molecule catabolic process','response to xenobiotic stimulus','organic hydroxy compound metabolic process','small molecule biosynthetic process','purine\u2212containing compound metabolic process','Nuclear receptors meta pathway','TRBP containing complex','Metabolic Epileptic Disorders','Biological oxidations','Drug ADME','carboxylic acid transport','bile acid signaling pathway','PPAR signaling pathway','organic cyclic compound catabolic process'];
const greenVals=[52,24,16,15,13.5,12,12,11,11,11,9,9,7.5,7.5,6.5];
const greenSrc=['R','G','G','G','G','G','W','Y','W','R','R','G','G','W','G'];
const greenRatio=['58/376','34/352','30/426','31/482','29/463','28/492','23/314','10/25','14/92','19/222','13/110','19/304','6/11','10/88','20/417'];
function barPanel(c){
  const g=mk(root,'g',{},c.name);
  const X=v=>c.x0+v*c.k;
  mk(g,'rect',{x:c.fx0,y:668,width:c.fx1-c.fx0,height:241,fill:'#fff',stroke:'#333','stroke-width':0.8},'plot-frame');
  c.ticks.forEach(t=>{
    mk(g,'line',{x1:X(t),x2:X(t),y1:668,y2:909,stroke:'#e8e8e8','stroke-width':0.6},'grid-x');
    mk(g,'line',{x1:X(t),x2:X(t),y1:665,y2:668,stroke:'#333','stroke-width':0.6},'x-tick');
    txt(g,X(t),663,String(t),{'font-size':7,'text-anchor':'middle',fill:'#333'},'x-tick-label');
  });
  txt(g,c.titleX,652,'\u2212Log10(q-value)',{'font-size':7.5,'text-anchor':'middle'},'x-axis-title');
  txt(g,c.modX,666,c.mod,{'font-size':9,'text-anchor':'middle','font-family':'"Liberation Serif",serif'},'module-title');
  c.terms.forEach((t,i)=>{
    const yc=677+i*15.83;
    mk(g,'rect',{x:c.x0,y:yc-6,width:c.vals[i]*c.k,height:12,fill:srcColors[c.src[i]]},'bar');
    txt(g,c.labX,yc+2.5,t,{'font-size':6.8,'text-anchor':'end',fill:'#444'},'term-label');
    const inside=c.vals[i]*c.k>c.insideMin;
    txt(g,inside?X(c.vals[i])-1:X(c.vals[i])+1,yc+2.5,c.ratio[i],{'font-size':6.5,'text-anchor':inside?'end':'start',fill:inside?'#fff':'#555'},'ratio-label');
  });
}
barPanel({name:'bars-turquoise',x0:376,k:0.96,fx0:373,fx1:453,ticks:[0,20,40,60],terms:turqTerms,vals:turqVals,src:turqSrc,ratio:turqRatio,labX:368,titleX:422,mod:'turquoise',modX:319,insideMin:55});
barPanel({name:'bars-green',x0:610,k:1.4,fx0:607,fx1:684,ticks:[0,10,20,30,40],terms:greenTerms,vals:greenVals,src:greenSrc,ratio:greenRatio,labX:603,titleX:651,mod:'green',modX:537,insideMin:55});
(function(){
  const g=mk(root,'g',{},'source-legend');
  txt(g,334,928,'Genesets resource',{'font-size':9,'text-anchor':'middle','font-family':'"Liberation Serif",serif'},'legend-title');
  [['Reactome','R',377,918],['WikiPathways','W',443,918],['CORUM','Y',521,918],['GO BP','G',377,935],['Canonical Pathways','C',443,935]].forEach(l=>{
    mk(g,'rect',{x:l[2],y:l[3],width:14,height:12,fill:srcColors[l[1]]},'legend-swatch');
    txt(g,l[2]+19,l[3]+9,l[0],{'font-size':7},'legend-label');
  });
})();
</script>
</body></html>
